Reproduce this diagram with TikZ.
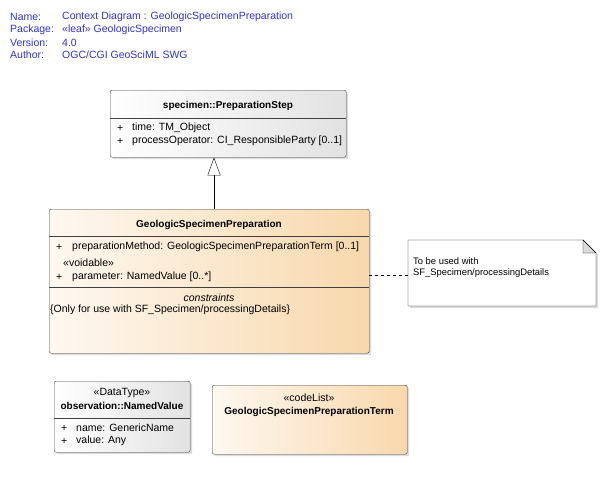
\documentclass[tikz,border=0pt]{standalone}
\usepackage{fontspec}
\setmainfont{Liberation Sans}
\usetikzlibrary{arrows.meta,shadows,fit}

\definecolor{hdrblue}{RGB}{50,50,200}
\definecolor{boxline}{RGB}{64,64,64}
\definecolor{grayend}{RGB}{226,226,226}
\definecolor{orgstart}{RGB}{254,248,241}
\definecolor{orgend}{RGB}{248,216,172}
\definecolor{foldgray}{RGB}{220,220,220}

\tikzset{
  umlbox/.style={draw=boxline, rounded corners=2pt, anchor=north west, inner sep=0pt,
    drop shadow={shadow xshift=2pt, shadow yshift=-2pt, fill=black!22, opacity=0.6}},
  graybox/.style={umlbox, left color=white, right color=grayend},
  orangebox/.style={umlbox, left color=orgstart, right color=orgend},
  attr/.style={anchor=west, inner sep=0pt, font=\fontsize{10.5}{12}\selectfont},
  ttl/.style={inner sep=0pt, font=\fontsize{10}{12}\selectfont\bfseries},
  hdr/.style={anchor=west, inner sep=0pt, text=hdrblue, font=\fontsize{10.5}{12}\selectfont},
  notetxt/.style={anchor=west, inner sep=0pt, font=\fontsize{9.4}{11}\selectfont},
  sepline/.style={draw=boxline}
}

\begin{document}
\begin{tikzpicture}[x=1pt,y=-1pt,>=Stealth]
    \useasboundingbox (0,0) rectangle (605,482);
    \fill[white] (0,0) rectangle (605,482);

    % Diagram header
    \node[hdr] (hname) at (10,17) {Name:};
    \node[hdr] (hpkg)  at (10,30) {Package:};
    \node[hdr] (hver)  at (10,43) {Version:};
    \node[hdr] (haut)  at (10,55) {Author:};
    \node[hdr] (vname) at (62,17) {Context Diagram : GeologicSpecimenPreparation};
    \node[hdr] (vpkg)  at (62,30) {«leaf» GeologicSpecimen};
    \node[hdr] (vver)  at (62,43) {4.0};
    \node[hdr] (vaut)  at (62,55) {OGC/CGI GeoSciML SWG};

    % specimen::PreparationStep
    \node[graybox, minimum width=236pt, minimum height=67pt] (step) at (110,90) {};
    \draw[sepline] (110,118) -- (346,118);
    \node[ttl] (steptitle) at (228,106) {specimen::PreparationStep};
    \node[attr] (stepp1) at (117,128) {+};
    \node[attr] (stepa1) at (132,128) {time: TM\_Object};
    \node[attr] (stepp2) at (117,141) {+};
    \node[attr] (stepa2) at (132,141) {processOperator: CI\_ResponsibleParty [0..1]};

    % GeologicSpecimenPreparation
    \node[orangebox, minimum width=320pt, minimum height=144pt] (gsp) at (49,209) {};
    \draw[sepline] (49,236) -- (369,236);
    \draw[sepline] (49,287) -- (369,287);
    \node[ttl] (gsptitle) at (209,225) {GeologicSpecimenPreparation};
    \node[attr] (gspp1) at (56,247) {+};
    \node[attr] (gspa1) at (72,247) {preparationMethod: GeologicSpecimenPreparationTerm [0..1]};
    \node[attr] (gspst) at (63,263) {«voidable»};
    \node[attr] (gspp2) at (56,277) {+};
    \node[attr] (gspa2) at (72,277) {parameter: NamedValue [0..*]};
    \node[inner sep=0pt, font=\fontsize{10.5}{12}\selectfont\itshape] (gspcon) at (209,298) {constraints};
    \node[attr] (gspc1) at (50,310) {\{Only for use with SF\_Specimen/processingDetails\}};

    % Note
    \coordinate (nnw) at (408,240);
    \coordinate (nse) at (596,306);
    \fill[black!22, opacity=0.6] (410,242) -- (585,242) -- (598,255) -- (598,308) -- (410,308) -- cycle;
    \draw[fill=white] (408,240) -- (583,240) -- (596,253) -- (596,306) -- (408,306) -- cycle;
    \draw[fill=foldgray] (583,240) -- (583,253) -- (596,253) -- cycle;
    \node[inner sep=0pt, fit={(nnw)(nse)}] (note) {};
    \node[notetxt] (note1) at (413,261) {To be used with};
    \node[notetxt] (note2) at (413,273) {SF\_Specimen/processingDetails};

    % observation::NamedValue
    \node[graybox, minimum width=136pt, minimum height=71pt] (nv) at (54,381) {};
    \draw[sepline] (54,418) -- (190,418);
    \node[inner sep=0pt, font=\fontsize{10.5}{12}\selectfont] (nvst) at (122,393) {«DataType»};
    \node[ttl] (nvtitle) at (122,406) {observation::NamedValue};
    \node[attr] (nvp1) at (61,428) {+};
    \node[attr] (nva1) at (76,428) {name: GenericName};
    \node[attr] (nvp2) at (61,441) {+};
    \node[attr] (nva2) at (76,441) {value: Any};

    % GeologicSpecimenPreparationTerm
    \node[orangebox, minimum width=195pt, minimum height=69pt] (term) at (212,385) {};
    \node[inner sep=0pt, font=\fontsize{10.5}{12}\selectfont] (termst) at (309,398) {«codeList»};
    \node[ttl] (termtitle) at (309,412) {GeologicSpecimenPreparationTerm};

    % Connectors
    \coordinate (genx) at (214,0);
    \coordinate (notey) at (0,275);
    \draw[-{Triangle[open, length=18pt, width=13pt, fill=white]}] (gsp.north -| genx) -- (step.south -| genx);
    \draw[dash pattern=on 3pt off 3pt] (gsp.east |- notey) -- (note.west |- notey);
\end{tikzpicture}
\end{document}
